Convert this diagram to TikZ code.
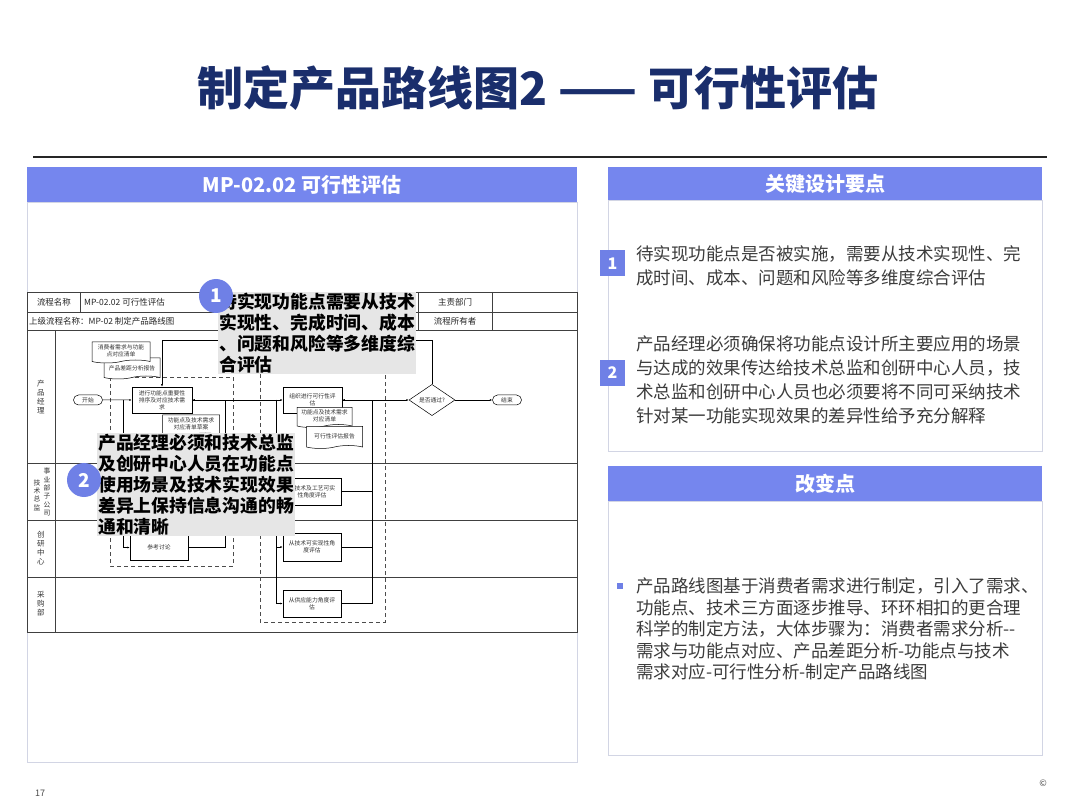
\documentclass[tikz,border=0pt]{standalone}
\usepackage{fontspec}
\setmainfont{Noto Sans CJK SC}
\usetikzlibrary{positioning,arrows.meta,shapes.geometric,shapes.symbols,shapes.misc}

\definecolor{barblue}{HTML}{7586EE}
\definecolor{dotblue}{HTML}{6F80E6}
\definecolor{titlenavy}{HTML}{1A2E6C}
\definecolor{panelframe}{HTML}{D2D5E4}
\definecolor{notegray}{HTML}{E6E6E6}
\definecolor{bodygray}{HTML}{3C3C3C}

\begin{document}
\begin{tikzpicture}[x=1pt,y=-1pt,
		fctxt/.style={font=\fontsize{5.8}{7}\selectfont,align=center,text=black!80,inner sep=1pt},
		procbox/.style={fctxt,draw,fill=white,line width=0.5pt,minimum width=58pt,minimum height=26pt},
		docbox/.style={fctxt,draw,fill=white,line width=0.5pt,tape,tape bend top=none,tape bend height=3pt,minimum width=56pt,minimum height=21pt},
		termbox/.style={fctxt,draw,fill=white,line width=0.5pt,rounded rectangle,minimum width=29pt,minimum height=10pt,inner sep=0pt},
		decision/.style={fctxt,draw,fill=white,line width=0.5pt,diamond,minimum width=46pt,minimum height=27pt,inner sep=0pt},
		flow/.style={line width=0.5pt,-{Latex[length=2.5pt,width=2pt]}},
		link/.style={line width=0.5pt},
		group/.style={line width=0.7pt,dash pattern=on 4pt off 3pt,draw=black!70},
		grid/.style={draw=black!75,line width=0.7pt},
		celltxt/.style={font=\fontsize{8.5}{10}\selectfont,text=black!85,inner sep=1pt},
		lanetxt/.style={font=\fontsize{7.5}{9}\selectfont,align=center,text=black!80,inner sep=0pt},
		note/.style={fill=notegray,anchor=north west,align=left,inner sep=1pt,font=\fontsize{17.8}{21}\selectfont\bfseries},
		numdot/.style={circle,fill=dotblue,text=white,minimum size=34pt,inner sep=0pt,font=\fontsize{19}{19}\selectfont\bfseries},
		headtxt/.style={text=white,font=\fontsize{20}{20}\selectfont\bfseries},
		badge/.style={fill=dotblue,text=white,minimum width=25pt,minimum height=26pt,inner sep=0pt,font=\fontsize{16}{16}\selectfont\bfseries},
		bodytxt/.style={anchor=west,align=left,text=bodygray,inner sep=0pt,font=\fontsize{17.5}{24}\selectfont}
	]
	
	% page
	\fill[white] (0,0) rectangle (1080,810);
	\useasboundingbox (0,0) rectangle (1080,810);
	
	\node[text=titlenavy,font=\fontsize{46}{46}\selectfont\bfseries] (title) at (538,88)
	{制定产品路线图2 —— 可行性评估};
	\draw[black!85,line width=1.3pt] (33,157) -- (1047,157);
	
	% left panel
	\fill[barblue] (27,167) rectangle (577,202);
	\draw[panelframe,line width=0.8pt] (27,202) rectangle (577,762);
	\node[headtxt] (lhead) at (302,184.5) {MP-02.02 可行性评估};
	
	% process table
	\draw[grid] (27,292) rectangle (577,632);
	\draw[grid] (27,312) -- (577,312);
	\draw[grid] (27,330) -- (577,330);
	\draw[grid] (27,463) -- (577,463);
	\draw[grid] (27,520) -- (577,520);
	\draw[grid] (27,577) -- (577,577);
	\draw[grid] (55,330) -- (55,632);
	\draw[grid] (80,292) -- (80,312);
	\draw[grid] (418,292) -- (418,330);
	\draw[grid] (492,292) -- (492,330);
	
	\node[celltxt] (pname) at (54,302) {流程名称};
	\node[celltxt,anchor=west] (pcode) at (83,302) {MP-02.02 可行性评估};
	\node[celltxt,anchor=west] (pupper) at (28,321) {上级流程名称：MP-02 制定产品路线图};
	\node[celltxt] (pdept) at (455,302) {主责部门};
	\node[celltxt] (powner) at (455,321) {流程所有者};
	
	\node[lanetxt] (lane1) at (41,397) {产\\品\\经\\理};
	\node[lanetxt,font=\fontsize{6.8}{8.3}\selectfont] (lane2a) at (47,492) {事\\业\\部\\子\\公\\司};
	\node[lanetxt,font=\fontsize{6.8}{8.3}\selectfont] (lane2b) at (37,495) {技\\术\\总\\监};
	\node[lanetxt] (lane3) at (41,548) {创\\研\\中\\心};
	\node[lanetxt] (lane4) at (41,604) {采\\购\\部};
	
	% groups
	\draw[group] (110,377) rectangle (233,566);
	\draw[group] (260,360) rectangle (385,622);
	
	% flow nodes
	\node[termbox] (start) at (88,400) {开始};
	\node[docbox,minimum width=56pt] (dgap) at (132,367) {\\产品差距分析报告};
	\node[docbox,minimum width=58pt] (dlist) at (121,351) {消费者需求与功能\\点对应清单};
	\node[procbox,minimum width=60pt] (sort) at (162,400) {进行功能点重要性\\排序及对应技术需\\求};
	\node[docbox,minimum width=57pt] (draft) at (191,424) {功能点及技术需求\\对应清单草案};
	\node[procbox] (talk) at (159,547.5) {参考讨论};
	
	\node[procbox,minimum width=59pt] (org) at (312.5,400) {组织进行可行性评\\估};
	\node[docbox,minimum width=55pt,minimum height=20pt] (match) at (324.5,416) {功能点及技术需求\\对应清单};
	\node[docbox,minimum width=56pt,minimum height=22pt] (report) at (334.5,436) {可行性评估报告};
	\node[procbox,minimum height=27pt] (tech) at (312,491.5) {从技术及工艺可实\\性角度评估};
	\node[procbox,minimum height=28pt] (feas) at (312,547) {从技术可实现性角\\度评估};
	\node[procbox,minimum height=27pt] (supply) at (312,603.5) {从供应能力角度评\\估};
	
	\node[decision] (pass) at (432,400) {是否通过?};
	\node[termbox] (stop) at (507,400) {结束};
	
	\coordinate (jt) at (123,400);
	\coordinate (jback) at (225,400);
	\coordinate (jl) at (276,400);
	\coordinate (jr) at (372,400);
	\coordinate (jloop) at (162,340);
	
	\draw[flow] (start) -- (sort);
	\draw[flow] (jt) |- (talk.west);
	\draw[flow] (talk.east) -| (jback) -- (sort.east);
	\draw[flow] (sort.east) -- (org.west);
	\draw[flow] (jl) |- (tech.west);
	\draw[flow] (jl) |- (feas.west);
	\draw[flow] (jl) |- (supply.west);
	\draw[link] (tech.east) -| (jr);
	\draw[link] (feas.east) -| (jr);
	\draw[link] (supply.east) -| (jr);
	\draw[flow] (jr) -- (org.east);
	\draw[flow] (org.east) -- (pass.west);
	\draw[flow] (pass) -- (stop);
	\draw[flow] (pass.north) |- (jloop) -- (sort.north);
	
	% callouts
	\node[note] (note1) at (218,292)
	{待实现功能点需要从技术\\实现性、完成时间、成本\\、问题和风险等多维度综\\合评估};
	\node[numdot] (dot1) at (216,296) {1};
	\node[note] (note2) at (97,433)
	{产品经理必须和技术总监\\及创研中心人员在功能点\\使用场景及技术实现效果\\差异上保持信息沟通的畅\\通和清晰};
	\node[numdot] (dot2) at (84,480) {2};
	
	% right panels
	\fill[barblue] (608,167) rectangle (1042,201);
	\draw[panelframe,line width=1pt] (608,201) rectangle (1042,452);
	\node[headtxt] (khead) at (825,184) {关键设计要点};
	
	\node[badge] (b1) at (612.5,263.5) {1};
	\node[bodytxt] (t1) at (636,266)
	{待实现功能点是否被实施，需要从技术实现性、完\\成时间、成本、问题和风险等多维度综合评估};
	\node[badge] (b2) at (612.5,373) {2};
	\node[bodytxt] (t2) at (636,380)
	{产品经理必须确保将功能点设计所主要应用的场景\\与达成的效果传达给技术总监和创研中心人员，技\\术总监和创研中心人员也必须要将不同可采纳技术\\针对某一功能实现效果的差异性给予充分解释};
	
	\fill[barblue] (608,466) rectangle (1042,501);
	\draw[panelframe,line width=1pt] (608,501) rectangle (1042,755);
	\node[headtxt] (chead) at (825,484) {改变点};
	
	\node[fill=dotblue,minimum size=6pt,inner sep=0pt] (bul) at (620,586) {};
	\node[bodytxt,font=\fontsize{17.5}{21.5}\selectfont] (t3) at (636,629)
	{产品路线图基于消费者需求进行制定，引入了需求、\\功能点、技术三方面逐步推导、环环相扣的更合理\\科学的制定方法，大体步骤为：消费者需求分析-{}-\\需求与功能点对应、产品差距分析-功能点与技术\\需求对应-可行性分析-制定产品路线图};
	
	\node[text=black!70,font=\fontsize{9}{9}\selectfont] (pageno) at (40,793) {17};
	\node[text=black!70,font=\fontsize{9}{9}\selectfont] (copy) at (1043,783) {©};
	
\end{tikzpicture}
\end{document}
